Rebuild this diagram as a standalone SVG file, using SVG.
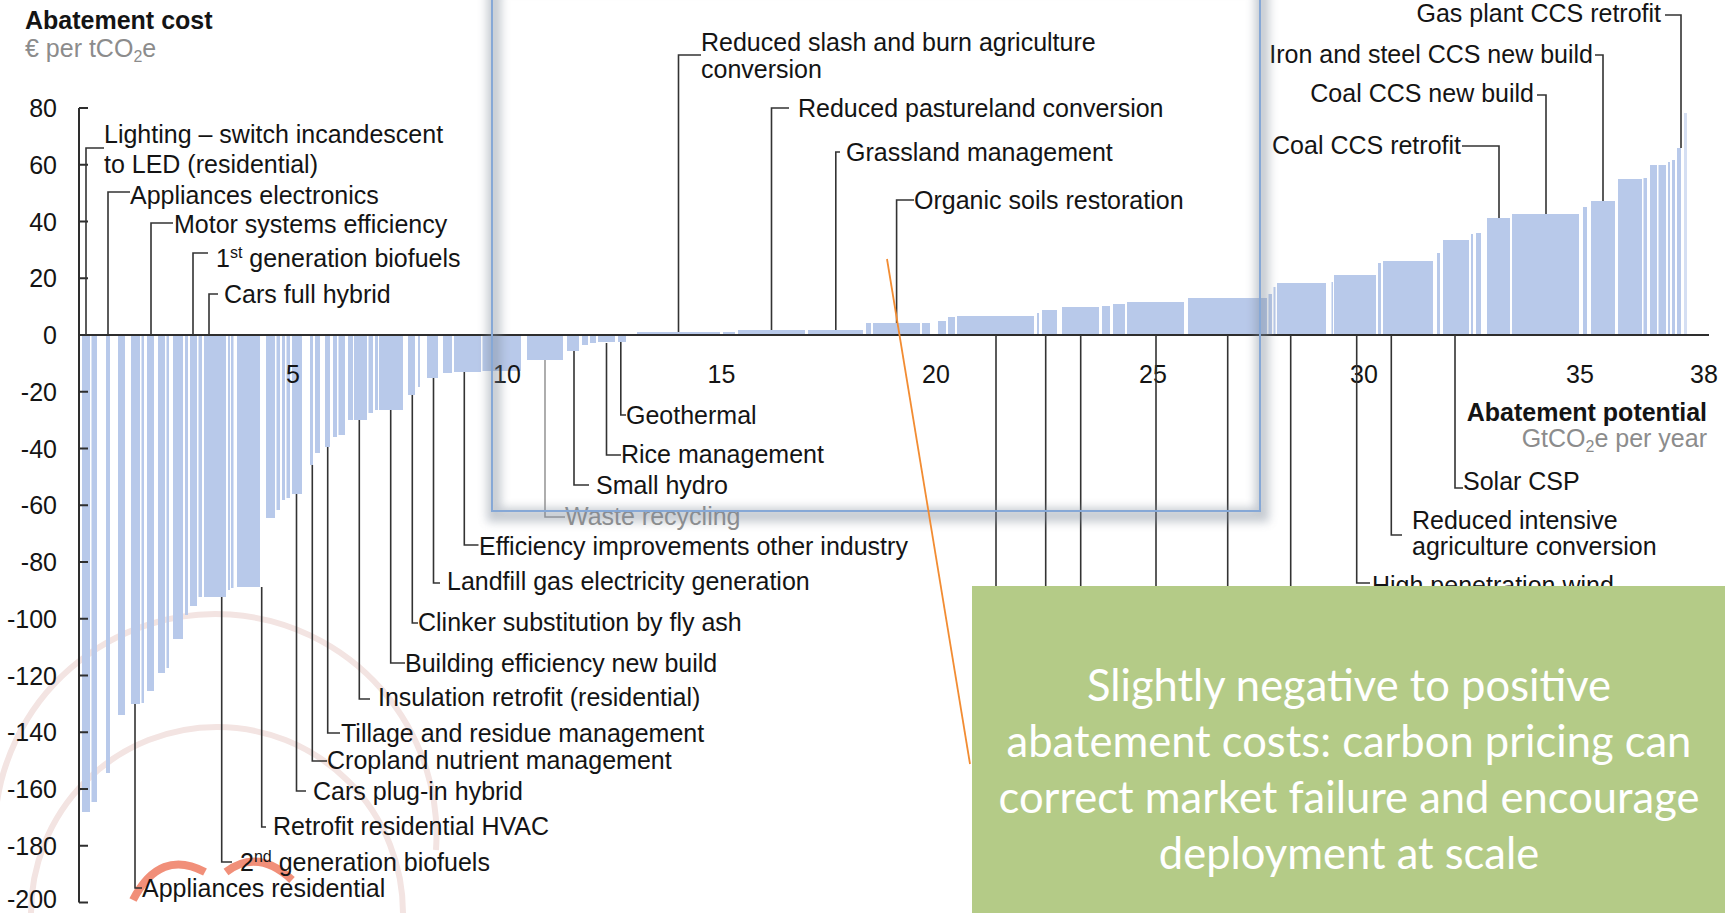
<svg xmlns="http://www.w3.org/2000/svg" width="1725" height="913" viewBox="0 0 1725 913">
<defs>
<style>
.t{font-family:"Liberation Sans",Arial,sans-serif;font-size:25px;fill:#141414}
.e{text-anchor:end}
.m{text-anchor:middle}
.b{font-weight:bold}
.g{fill:#8c8c8c}
.bar{fill:#b8c9ea}
.ax{stroke:#2e2e2e;stroke-width:2;fill:none}
.c{stroke:#333;stroke-width:1.6;fill:none}
.note{font-family:Lato,"Open Sans",sans-serif;font-size:43.5px;fill:#fff;text-anchor:middle}
.wm{fill:none;stroke:#f3e4e2;stroke-width:6}
</style>
<filter id="blur" x="-5%" y="-5%" width="110%" height="115%"><feGaussianBlur stdDeviation="5"/></filter>
</defs>
<rect width="1725" height="913" fill="#fff"/>

<g id="watermark">
<path class="wm" d="M-5,820 A219,219 0 0 1 436,850"/>
<path class="wm" d="M31,913 A186,186 0 0 1 403,913"/>
<path d="M133,900 Q160,848 205,872" fill="none" stroke="#ec6a4c" stroke-width="8" opacity="0.75"/>
<path d="M226,872 Q258,848 292,880" fill="none" stroke="#ec6a4c" stroke-width="8" opacity="0.75"/>
</g>

<g id="bars">
<rect class="bar" x="82" y="335" width="8" height="477"/>
<rect class="bar" x="91.5" y="335" width="5.5" height="467"/>
<rect class="bar" x="106" y="335" width="4" height="438"/>
<rect class="bar" x="118" y="335" width="7" height="380"/>
<rect class="bar" x="131" y="335" width="9" height="369"/>
<rect class="bar" x="141.5" y="335" width="2.5" height="368"/>
<rect class="bar" x="147" y="335" width="7" height="356"/>
<rect class="bar" x="158" y="335" width="7" height="338"/>
<rect class="bar" x="166.5" y="335" width="2.5" height="333"/>
<rect class="bar" x="173" y="335" width="10" height="304"/>
<rect class="bar" x="185" y="335" width="3" height="280"/>
<rect class="bar" x="190" y="335" width="7" height="271"/>
<rect class="bar" x="198.5" y="335" width="3.5" height="262"/>
<rect class="bar" x="204" y="335" width="22" height="262"/>
<rect class="bar" x="228" y="335" width="2" height="255"/>
<rect class="bar" x="231" y="335" width="2.5" height="253"/>
<rect class="bar" x="237" y="335" width="23" height="252"/>
<rect class="bar" x="266" y="335" width="9" height="183"/>
<rect class="bar" x="276.5" y="335" width="3.5" height="175"/>
<rect class="bar" x="282" y="335" width="3" height="165"/>
<rect class="bar" x="286.5" y="335" width="3.5" height="163"/>
<rect class="bar" x="292" y="335" width="10" height="159"/>
<rect class="bar" x="310" y="335" width="3" height="130"/>
<rect class="bar" x="315" y="335" width="5" height="118"/>
<rect class="bar" x="325" y="335" width="5" height="112"/>
<rect class="bar" x="333" y="335" width="4" height="102"/>
<rect class="bar" x="338.5" y="335" width="6.5" height="100"/>
<rect class="bar" x="348" y="335" width="5" height="85"/>
<rect class="bar" x="354" y="335" width="13" height="85"/>
<rect class="bar" x="368.5" y="335" width="4.5" height="78"/>
<rect class="bar" x="375" y="335" width="3" height="75"/>
<rect class="bar" x="379" y="335" width="24" height="75"/>
<rect class="bar" x="408" y="335" width="7" height="60"/>
<rect class="bar" x="418" y="335" width="2" height="52"/>
<rect class="bar" x="427" y="335" width="11" height="43"/>
<rect class="bar" x="443" y="335" width="9" height="38"/>
<rect class="bar" x="454" y="335" width="27" height="37"/>
<rect class="bar" x="482.5" y="335" width="38.5" height="36"/>
<rect class="bar" x="527" y="335" width="36" height="25"/>
<rect class="bar" x="567" y="335" width="12" height="16"/>
<rect class="bar" x="582" y="335" width="6" height="10"/>
<rect class="bar" x="590" y="335" width="6" height="8"/>
<rect class="bar" x="598" y="335" width="17" height="7"/>
<rect class="bar" x="618" y="335" width="8" height="7"/>
<rect class="bar" x="637" y="332" width="83" height="3"/>
<rect class="bar" x="723" y="332" width="12" height="3"/>
<rect class="bar" x="738" y="330" width="67" height="5"/>
<rect class="bar" x="808" y="330" width="55" height="5"/>
<rect class="bar" x="866" y="323" width="5" height="12"/>
<rect class="bar" x="873" y="323" width="47" height="12"/>
<rect class="bar" x="922" y="323" width="8" height="12"/>
<rect class="bar" x="938" y="321" width="8" height="14"/>
<rect class="bar" x="948" y="317" width="7" height="18"/>
<rect class="bar" x="957" y="316" width="77" height="19"/>
<rect class="bar" x="1037" y="313" width="2" height="22"/>
<rect class="bar" x="1042" y="310" width="15" height="25"/>
<rect class="bar" x="1062" y="307" width="37" height="28"/>
<rect class="bar" x="1102" y="306" width="8" height="29"/>
<rect class="bar" x="1113" y="304" width="12" height="31"/>
<rect class="bar" x="1127" y="302" width="57" height="33"/>
<rect class="bar" x="1188" y="298" width="79" height="37"/>
<rect class="bar" x="1268.5" y="294" width="3.5" height="41"/>
<rect class="bar" x="1273.5" y="287" width="2" height="48"/>
<rect class="bar" x="1277" y="283" width="49" height="52"/>
<rect class="bar" x="1331.5" y="282" width="1.5" height="53"/>
<rect class="bar" x="1334" y="275" width="42" height="60"/>
<rect class="bar" x="1378" y="263" width="3" height="72"/>
<rect class="bar" x="1383" y="261" width="50" height="74"/>
<rect class="bar" x="1437" y="253" width="3" height="82"/>
<rect class="bar" x="1443" y="240" width="26" height="95"/>
<rect class="bar" x="1471" y="234" width="2" height="101"/>
<rect class="bar" x="1476" y="233" width="5" height="102"/>
<rect class="bar" x="1487" y="218" width="23" height="117"/>
<rect class="bar" x="1512" y="214" width="67" height="121"/>
<rect class="bar" x="1583" y="207" width="4" height="128"/>
<rect class="bar" x="1591" y="201" width="24" height="134"/>
<rect class="bar" x="1618" y="179" width="24" height="156"/>
<rect class="bar" x="1643.5" y="178" width="3.5" height="157"/>
<rect class="bar" x="1650" y="165" width="7" height="170"/>
<rect class="bar" x="1658.5" y="165" width="7.5" height="170"/>
<rect class="bar" x="1668" y="162" width="2" height="173"/>
<rect class="bar" x="1672" y="160" width="3" height="175"/>
<rect class="bar" x="1677" y="148" width="4" height="187"/>
<rect x="1684" y="113" width="3" height="222" fill="#d5dff3"/>
</g>

<g id="axes">
<path class="ax" d="M79,108 V902.5 M79,335 H1709"/>
<path class="ax" d="M79,108 H88 M79,164.75 H88 M79,221.5 H88 M79,278.25 H88 M79,391.75 H88 M79,448.5 H88 M79,505.25 H88 M79,562 H88 M79,618.75 H88 M79,675.5 H88 M79,732.25 H88 M79,789 H88 M79,845.75 H88 M79,902.5 H88"/>
<g class="t e">
<text x="57" y="117">80</text>
<text x="57" y="174">60</text>
<text x="57" y="230.5">40</text>
<text x="57" y="287">20</text>
<text x="57" y="344">0</text>
<text x="57" y="401">-20</text>
<text x="57" y="457.5">-40</text>
<text x="57" y="514">-60</text>
<text x="57" y="571">-80</text>
<text x="57" y="628">-100</text>
<text x="57" y="684.5">-120</text>
<text x="57" y="741">-140</text>
<text x="57" y="798">-160</text>
<text x="57" y="855">-180</text>
<text x="57" y="908">-200</text>
</g>
<g class="t m">
<text x="293" y="383">5</text>
<text x="507" y="383">10</text>
<text x="721.5" y="383">15</text>
<text x="936" y="383">20</text>
<text x="1153" y="383">25</text>
<text x="1364" y="383">30</text>
<text x="1580" y="383">35</text>
<text x="1704" y="383">38</text>
</g>
<text class="t b" x="25" y="29">Abatement cost</text>
<text class="t g" x="25" y="57">€ per tCO<tspan font-size="16" dy="5">2</tspan><tspan dy="-5">e</tspan></text>
<text class="t b e" x="1707" y="421">Abatement potential</text>
<text class="t g e" x="1707" y="447">GtCO<tspan font-size="16" dy="5">2</tspan><tspan dy="-5">e per year</tspan></text>
</g>

<g id="connectors">
<path class="c" d="M86,335 V148 H104"/>
<path class="c" d="M108,335 V192 H130"/>
<path class="c" d="M151,335 V223 H173"/>
<path class="c" d="M193,335 V253 H208"/>
<path class="c" d="M209,335 V294 H218"/>
<path class="c" d="M678.5,332 V55 H701"/>
<path class="c" d="M771.5,330 V108 H789"/>
<path class="c" d="M835.8,330 V152 H840"/>
<path class="c" d="M896.6,323 V200 H914"/>
<path class="c" d="M1499,218 V146 H1462"/>
<path class="c" d="M1546,214 V95 H1537"/>
<path class="c" d="M1603,201 V55 H1595"/>
<path class="c" d="M1681,148 V15 H1665"/>
<path class="c" d="M135,704 V888 H142"/>
<path class="c" d="M221.7,597 V862 H232"/>
<path class="c" d="M261.7,587 V827 H266"/>
<path class="c" d="M296.5,494 V791 H306"/>
<path class="c" d="M312.3,465 V761 H327"/>
<path class="c" d="M327.7,447 V733 H340"/>
<path class="c" d="M359.3,420 V699 H370"/>
<path class="c" d="M390.7,410 V663 H405"/>
<path class="c" d="M412.3,395 V623 H418"/>
<path class="c" d="M433.5,378 V583 H440"/>
<path class="c" d="M464.3,372 V545 H478.5"/>
<path d="M545,360 V517 H565" fill="none" stroke="#9a9a9a" stroke-width="1.6"/>
<path class="c" d="M574,351 V485 H589"/>
<path class="c" d="M606.5,343 V455 H621"/>
<path class="c" d="M620.8,342 V415 H626"/>
<path class="c" d="M996,335 V600 M1045.7,335 V600 M1080.7,335 V600 M1156,335 V600 M1227.7,335 V600 M1290.7,335 V600"/>
<path class="c" d="M1356.7,335 V583 H1370"/>
<path class="c" d="M1391.3,335 V535 H1402"/>
<path class="c" d="M1455,335 V488 H1463"/>
</g>

<g id="labels" class="t">
<g id="lbl-lighting"><text x="104" y="143">Lighting – switch incandescent</text><text x="104" y="173">to LED (residential)</text></g>
<g id="lbl-appl-elec"><text x="130" y="204">Appliances electronics</text></g>
<g id="lbl-motor"><text x="174" y="233">Motor systems efficiency</text></g>
<g id="lbl-1st-bio"><text x="216" y="267">1<tspan font-size="16" dy="-9">st</tspan><tspan dy="9"> generation biofuels</tspan></text></g>
<g id="lbl-cars-hybrid"><text x="224" y="303">Cars full hybrid</text></g>
<g id="lbl-slash"><text x="701" y="51">Reduced slash and burn agriculture</text><text x="701" y="78">conversion</text></g>
<g id="lbl-pasture"><text x="798" y="117">Reduced pastureland conversion</text></g>
<g id="lbl-grass"><text x="846" y="161">Grassland management</text></g>
<g id="lbl-organic"><text x="914" y="209">Organic soils restoration</text></g>
<g id="lbl-coal-retro"><text class="e" x="1461" y="154">Coal CCS retrofit</text></g>
<g id="lbl-coal-new"><text class="e" x="1534" y="102">Coal CCS new build</text></g>
<g id="lbl-iron"><text class="e" x="1593" y="63">Iron and steel CCS new build</text></g>
<g id="lbl-gas"><text class="e" x="1661" y="22">Gas plant CCS retrofit</text></g>
<g id="lbl-appl-res"><text x="142" y="897">Appliances residential</text></g>
<g id="lbl-2nd-bio"><text x="240" y="871">2<tspan font-size="16" dy="-9">nd</tspan><tspan dy="9"> generation biofuels</tspan></text></g>
<g id="lbl-hvac"><text x="273" y="835">Retrofit residential HVAC</text></g>
<g id="lbl-plugin"><text x="313" y="800">Cars plug-in hybrid</text></g>
<g id="lbl-cropland"><text x="327" y="769">Cropland nutrient management</text></g>
<g id="lbl-tillage"><text x="341" y="742">Tillage and residue management</text></g>
<g id="lbl-insulation"><text x="378" y="706">Insulation retrofit (residential)</text></g>
<g id="lbl-building"><text x="405" y="672">Building efficiency new build</text></g>
<g id="lbl-clinker"><text x="418" y="631">Clinker substitution by fly ash</text></g>
<g id="lbl-landfill"><text x="447" y="590">Landfill gas electricity generation</text></g>
<g id="lbl-efficiency"><text x="479" y="555">Efficiency improvements other industry</text></g>
<g id="lbl-waste"><text x="565" y="525" fill="#8e8e8e">Waste recycling</text></g>
<g id="lbl-hydro"><text x="596" y="494">Small hydro</text></g>
<g id="lbl-rice"><text x="621" y="463">Rice management</text></g>
<g id="lbl-geo"><text x="626" y="424">Geothermal</text></g>
<g id="lbl-wind"><text x="1372" y="594">High penetration wind</text></g>
<g id="lbl-intensive"><text x="1412" y="529">Reduced intensive</text><text x="1412" y="555">agriculture conversion</text></g>
<g id="lbl-solar"><text x="1463" y="490">Solar CSP</text></g>
</g>

<g id="highlight">
<rect x="492" y="-20" width="768" height="531" fill="none" stroke="#7f8a99" stroke-width="14" opacity="0.45" filter="url(#blur)" transform="translate(2,4)"/>
<rect x="492" y="-20" width="768" height="531" fill="none" stroke="#86a8d6" stroke-width="2"/>
</g>

<path id="pointer" d="M887,259 L970,764" stroke="#f28c32" stroke-width="1.8" fill="none"/>

<g id="note">
<rect x="972" y="586" width="760" height="330" fill="#b4cb87"/>
<text class="note" x="1349" y="701">Slightly negative to positive</text>
<text class="note" x="1349" y="757">abatement costs: carbon pricing can</text>
<text class="note" x="1349" y="813">correct market failure and encourage</text>
<text class="note" x="1349" y="869">deployment at scale</text>
</g>
</svg>
